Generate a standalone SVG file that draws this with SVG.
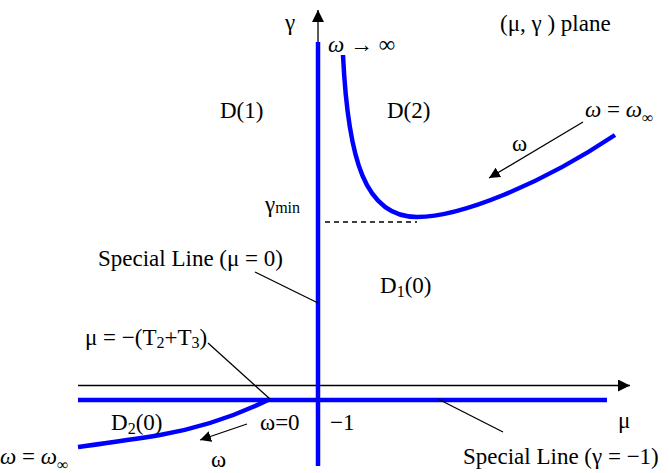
<svg xmlns="http://www.w3.org/2000/svg" width="669" height="473" viewBox="0 0 669 473">
<style>
text{font-family:"Liberation Serif","Times New Roman",serif;font-size:23px;fill:#000}
.it{font-style:italic}
.sub{font-size:16px}
.blue{stroke:#0000ff;stroke-width:4.5;fill:none}
.thin{stroke:#000;stroke-width:1.3;fill:none}
</style>
<defs>
<marker id="ah" viewBox="0 0 10 10" refX="10" refY="5" markerWidth="11" markerHeight="11" markerUnits="userSpaceOnUse" orient="auto"><path d="M0,0L10,5L0,10z" fill="#000"/></marker>
<marker id="ahL" viewBox="0 0 10 10" refX="10" refY="5" markerWidth="14" markerHeight="12" markerUnits="userSpaceOnUse" orient="auto"><path d="M0,0L10,5L0,10z" fill="#000"/></marker>
</defs>
<g id="connectors">
<line class="thin" x1="318" y1="44" x2="318" y2="10" marker-end="url(#ahL)"/>
<line class="thin" x1="78" y1="385.5" x2="630" y2="385.5" marker-end="url(#ahL)"/>
<line class="blue" x1="318" y1="42" x2="318" y2="466"/>
<line class="blue" x1="78" y1="400" x2="607" y2="400"/>
<path class="blue" d="M343,55 C348,160 365,217 417,217 C460,217 540,185 615,135"/>
<path class="blue" d="M270,399 C240,414 200,428 160,435 C130,440 100,444 78,447"/>
<line x1="325" y1="222" x2="417" y2="222" stroke="#000" stroke-width="1.3" stroke-dasharray="5,4"/>
<line class="thin" x1="583" y1="122" x2="489" y2="178" marker-end="url(#ah)"/>
<line class="thin" x1="247" y1="424" x2="200" y2="440" marker-end="url(#ah)"/>
<line class="thin" x1="255" y1="272" x2="318" y2="303"/>
<line class="thin" x1="208" y1="343" x2="270" y2="399"/>
<line class="thin" x1="438" y1="399" x2="503" y2="432"/>
</g>
<g id="labels">
<text x="285" y="30" font-size="25">γ</text>
<text x="500" y="31" font-size="25">(μ, γ ) plane</text>
<text x="328" y="52" font-size="20"><tspan class="it">ω</tspan> → ∞</text>
<text x="220" y="118">D(1)</text>
<text x="387" y="118">D(2)</text>
<text x="585" y="117" font-size="24"><tspan class="it">ω</tspan> = <tspan class="it">ω</tspan><tspan class="sub" dy="6">∞</tspan></text>
<text x="512" y="151">ω</text>
<text x="265" y="212">γ<tspan class="sub" dy="1">min</tspan></text>
<text x="98" y="266">Special Line (μ = 0)</text>
<text x="380" y="293">D<tspan class="sub" dy="4">1</tspan><tspan dy="-4">(0)</tspan></text>
<text x="85" y="345" font-size="20">μ = −(T<tspan class="sub" dy="3">2</tspan><tspan dy="-3">+T</tspan><tspan class="sub" dy="3">3</tspan><tspan dy="-3">)</tspan></text>
<text x="111" y="430">D<tspan class="sub" dy="4">2</tspan><tspan dy="-4">(0)</tspan></text>
<text x="260" y="430">ω=0</text>
<text x="330" y="430">−1</text>
<text x="618" y="428">μ</text>
<text x="211" y="467">ω</text>
<text x="0" y="464" font-size="24"><tspan class="it">ω</tspan> = <tspan class="it">ω</tspan><tspan class="sub" dy="6">∞</tspan></text>
<text x="463" y="464" font-size="24">Special Line (γ = −1)</text>
</g>
</svg>
